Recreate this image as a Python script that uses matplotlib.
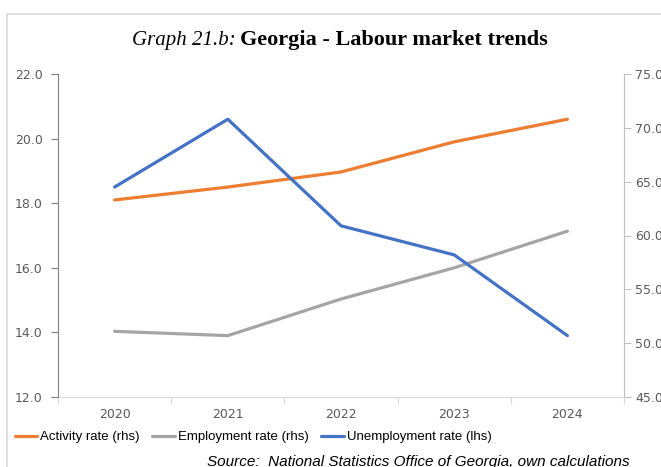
from matplotlib import pyplot as plt
import matplotlib.patches as patches
import matplotlib.ticker as ticker

years = ['2020', '2021', '2022', '2023', '2024']
activity_rate = [63.3, 64.5, 65.9, 68.7, 70.8]        # rhs
employment_rate = [51.1, 50.7, 54.1, 57.0, 60.4]      # rhs
unemployment_rate = [18.5, 20.6, 17.3, 16.4, 13.9]    # lhs

orange = '#ED7D31'
grey = '#A5A5A5'
blue = '#4472C4'
tick_grey = '#595959'

fig = plt.figure(figsize=(6.61, 4.67), dpi=100)

# document frame around the chart
fig.patches.append(patches.Rectangle((7 / 661, -0.1), 1.2, 1 - 14 / 467 + 0.1,
                                     transform=fig.transFigure, fill=False,
                                     edgecolor='#d9d9d9', lw=1.2))

ax1 = fig.add_axes([58 / 661, 1 - 397 / 467, (624 - 58) / 661, (397 - 74) / 467])
ax2 = ax1.twinx()
ax1.set_zorder(ax2.get_zorder() + 1)
ax1.patch.set_visible(False)

x = list(range(len(years)))
l1, = ax2.plot(x, activity_rate, color=orange, lw=2.3, solid_capstyle='round')
l2, = ax2.plot(x, employment_rate, color=grey, lw=2.3, solid_capstyle='round')
l3, = ax1.plot(x, unemployment_rate, color=blue, lw=2.3, solid_capstyle='round')

ax1.set_xlim(-0.5, 4.5)
ax1.set_ylim(12, 22)
ax2.set_ylim(45, 75)
ax1.set_yticks([12, 14, 16, 18, 20, 22])
ax2.set_yticks([45, 50, 55, 60, 65, 70, 75])
ax1.yaxis.set_major_formatter(ticker.FormatStrFormatter('%.1f'))
ax2.yaxis.set_major_formatter(ticker.FormatStrFormatter('%.1f'))

# category ticks between years, labels centred
ax1.set_xticks([-0.5, 0.5, 1.5, 2.5, 3.5, 4.5])
ax1.xaxis.set_major_formatter(ticker.NullFormatter())
ax1.set_xticks(x, minor=True)
ax1.set_xticklabels(years, minor=True)
ax1.tick_params(axis='x', which='minor', length=0, pad=8, labelsize=9, labelcolor=tick_grey)
ax1.tick_params(axis='x', which='major', length=5, color='#d9d9d9')

ax1.tick_params(axis='y', length=5, color='#7f7f7f', labelsize=9, labelcolor=tick_grey, pad=6)
ax2.tick_params(axis='y', length=5, color='#bfbfbf', labelsize=9, labelcolor=tick_grey, pad=3)

for ax in (ax1, ax2):
    ax.spines['top'].set_visible(False)
    ax.spines['bottom'].set_visible(False)
ax1.spines['right'].set_visible(False)
ax2.spines['left'].set_visible(False)
ax1.spines['left'].set_color('#7f7f7f')
ax2.spines['right'].set_color('#bfbfbf')
ax2.spines['bottom'].set_visible(True)
ax2.spines['bottom'].set_color('#d9d9d9')

fig.text(236 / 661, 1 - 40 / 467, 'Graph 21.b:', ha='right', va='center',
         fontsize=15, family='Liberation Serif', style='italic')
fig.text(240 / 661, 1 - 40 / 467, 'Georgia - Labour market trends', ha='left', va='center',
         fontsize=16, family='Liberation Serif', weight='bold')

leg = fig.legend([l1, l2, l3], ['Activity rate (rhs)', 'Employment rate (rhs)', 'Unemployment rate (lhs)'],
                 loc='center', bbox_to_anchor=(253 / 661, 1 - 437 / 467), ncol=3, frameon=False,
                 handlelength=1.7, handletextpad=0.2, columnspacing=1.0,
                 prop={'family': 'Liberation Sans', 'size': 9.5})

fig.text(630 / 661, 1 - 462 / 467, 'Source:  National Statistics Office of Georgia, own calculations',
         ha='right', va='center', fontsize=11, style='italic', family='Liberation Sans')

fig.savefig('out.png', dpi=100)
